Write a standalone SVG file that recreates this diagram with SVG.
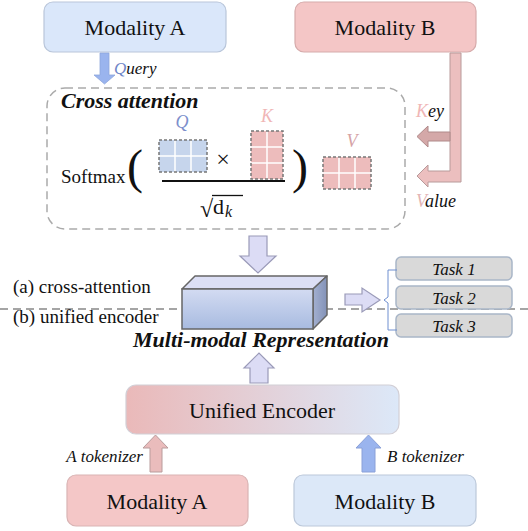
<svg xmlns="http://www.w3.org/2000/svg" width="528" height="531" viewBox="0 0 528 531">
<style>
.serif{font-family:"Liberation Serif","Times New Roman",serif;fill:#111}
.it{font-style:italic}
.bi{font-style:italic;font-weight:bold}
.box{stroke-width:1.2}
.lav{fill:#dcdcf5;stroke:#9a9ab8;stroke-width:1.2}
.grid{stroke:#fff;stroke-width:1.5}
.mborder{fill:none;stroke:#777;stroke-width:1.5;stroke-dasharray:3 2}
</style>
<defs>
<linearGradient id="ueGrad" x1="0" y1="0" x2="1" y2="0">
<stop offset="0" stop-color="#eab9b9"/>
<stop offset="1" stop-color="#dce8f8"/>
</linearGradient>
<linearGradient id="frontGrad" x1="0" y1="0" x2="0" y2="1">
<stop offset="0" stop-color="#d3dbf2"/>
<stop offset="1" stop-color="#a8bbe0"/>
</linearGradient>
<linearGradient id="sideGrad" x1="0" y1="0" x2="1" y2="0">
<stop offset="0" stop-color="#a3b0d0"/>
<stop offset="1" stop-color="#8392b8"/>
</linearGradient>
</defs>

<!-- separator -->
<line x1="0" y1="309" x2="528" y2="309" stroke="#888" stroke-width="1.5" stroke-dasharray="8 5"/>

<g id="modalityA-top">
<rect x="44" y="2" width="182" height="50" rx="9" fill="#dae7fa" stroke="#b9c6da" class="box"/>
<text x="135" y="35" class="serif" font-size="22" text-anchor="middle">Modality A</text>
</g>
<g id="modalityB-top">
<rect x="295" y="2" width="181" height="50" rx="9" fill="#f4c6c6" stroke="#d6abab" class="box"/>
<text x="385" y="35" class="serif" font-size="22" text-anchor="middle">Modality B</text>
</g>

<g id="cross-attention">
<rect x="47" y="88" width="358" height="141" rx="18" fill="none" stroke="#aaa" stroke-width="1.5" stroke-dasharray="8 5"/>
<text x="61" y="108" class="serif bi" font-size="22">Cross attention</text>
<text x="61" y="183" class="serif" font-size="19">Softmax</text>
<text x="127" y="183" class="serif" font-size="48">(</text>
<text x="292" y="183" class="serif" font-size="48">)</text>
<!-- Q -->
<text x="182" y="128" class="serif it" font-size="18" fill="#7d8fcc" text-anchor="middle" style="fill:#7d8fcc">Q</text>
<rect x="159" y="140" width="48" height="32" fill="#c6d5ec"/>
<line x1="175" y1="140" x2="175" y2="172" class="grid"/>
<line x1="191" y1="140" x2="191" y2="172" class="grid"/>
<line x1="159" y1="156" x2="207" y2="156" class="grid"/>
<rect x="159" y="140" width="48" height="32" class="mborder"/>
<text x="223" y="167" class="serif" font-size="24" text-anchor="middle">×</text>
<!-- K -->
<text x="267" y="122" class="serif it" font-size="18" text-anchor="middle" style="fill:#f0b6b6">K</text>
<rect x="251" y="131" width="32" height="48" fill="#edbcbc"/>
<line x1="267" y1="131" x2="267" y2="179" class="grid"/>
<line x1="251" y1="147" x2="283" y2="147" class="grid"/>
<line x1="251" y1="163" x2="283" y2="163" class="grid"/>
<rect x="251" y="131" width="32" height="48" class="mborder"/>
<!-- fraction -->
<line x1="162" y1="181" x2="285" y2="181" stroke="#111" stroke-width="2"/>
<text x="200" y="217" class="serif" font-size="24">√</text>
<line x1="212" y1="195.5" x2="243" y2="195.5" stroke="#111" stroke-width="1.3"/>
<text x="213" y="214" class="serif" font-size="22">d</text>
<text x="225" y="217" class="serif it" font-size="16">k</text>
<!-- V -->
<text x="352" y="147" class="serif it" font-size="18" text-anchor="middle" style="fill:#d5a3a6">V</text>
<rect x="323" y="157" width="48" height="32" fill="#edbcbc"/>
<line x1="339" y1="157" x2="339" y2="189" class="grid"/>
<line x1="355" y1="157" x2="355" y2="189" class="grid"/>
<line x1="323" y1="173" x2="371" y2="173" class="grid"/>
<rect x="323" y="157" width="48" height="32" class="mborder"/>
</g>

<g id="representation">
<polygon points="182,289 195,276 327,276 313,289" fill="#dcdff5" stroke="#666" stroke-width="1.5" stroke-linejoin="round"/>
<polygon points="313,289 327,276 327,315 313,329" fill="url(#sideGrad)" stroke="#666" stroke-width="1.5" stroke-linejoin="round"/>
<rect x="182" y="289" width="131" height="40" fill="url(#frontGrad)" stroke="#666" stroke-width="1.5"/>
<text x="133" y="347" class="serif bi" font-size="22">Multi-modal Representation</text>
</g>

<g id="labels">
<text x="13" y="293" class="serif" font-size="19">(a) cross-attention</text>
<text x="13" y="323" class="serif" font-size="19">(b) unified encoder</text>
</g>

<g id="task1">
<rect x="396" y="257" width="116" height="23" rx="5" fill="#d9d9d9" stroke="#a9b6c8" stroke-width="1.5"/>
<text x="454" y="275" class="serif it" font-size="17" text-anchor="middle">Task 1</text>
</g>
<g id="task2">
<rect x="396" y="286" width="116" height="23" rx="5" fill="#d9d9d9" stroke="#a9b6c8" stroke-width="1.5"/>
<text x="454" y="304" class="serif it" font-size="17" text-anchor="middle">Task 2</text>
</g>
<g id="task3">
<rect x="396" y="314" width="116" height="23" rx="5" fill="#d9d9d9" stroke="#a9b6c8" stroke-width="1.5"/>
<text x="454" y="332" class="serif it" font-size="17" text-anchor="middle">Task 3</text>
</g>

<g id="unified-encoder">
<rect x="126" y="385" width="273" height="49" rx="10" fill="url(#ueGrad)" stroke="#d2cfd6" class="box"/>
<text x="262" y="418" class="serif" font-size="22" text-anchor="middle">Unified Encoder</text>
</g>

<g id="modalityA-bottom">
<rect x="67" y="475" width="181" height="51" rx="9" fill="#f4c7c7" stroke="#d9b4b4" class="box"/>
<text x="157" y="509" class="serif" font-size="22" text-anchor="middle">Modality A</text>
</g>
<g id="modalityB-bottom">
<rect x="294" y="475" width="182" height="51" rx="9" fill="#dce8f8" stroke="#bcc8da" class="box"/>
<text x="385" y="509" class="serif" font-size="22" text-anchor="middle">Modality B</text>
</g>

<g id="connectors">
<!-- Query -->
<polygon points="100,53 109,53 109,75 115,75 104.5,84 94,75 100,75" fill="#9ab4ee" stroke="#8ea6dc" stroke-width="0.8"/>
<text x="114" y="74" class="serif it" font-size="17"><tspan style="fill:#6f86c8">Q</tspan>uery</text>
<!-- Value L-shaped -->
<path d="M450,53 H461 V182 H428 V187 L417,176 L428,165 V171 H450 Z" fill="#ecbfbf" stroke="#b89a9a" stroke-width="1"/>
<!-- Key -->
<path d="M450,132 V141 H428 V147 L417,136.5 L428,126 V132 Z" fill="#d4a8a8" stroke="#b08a8a" stroke-width="1"/>
<text x="416" y="117" class="serif it" font-size="18"><tspan style="fill:#f0b6b6">K</tspan>ey</text>
<text x="416" y="207" class="serif it" font-size="18"><tspan style="fill:#e3b5b5">V</tspan>alue</text>
<!-- down arrow to cube -->
<polygon points="249,236 267,236 267,256 276,256 258,273 240,256 249,256" class="lav"/>
<!-- right arrow to tasks -->
<polygon points="345,294 362,294 362,288 380,300 362,312 362,305 345,305" class="lav"/>
<!-- brace -->
<path d="M397,270 H388 V297 L384,300 L388,303 V330 H397" fill="none" stroke="#6f8fd0" stroke-width="1"/>
<!-- up arrow from encoder -->
<polygon points="250,383 268,383 268,368 274,368 259,353 244,368 250,368" class="lav"/>
<!-- A tokenizer -->
<polygon points="150,472 162,472 162,448 168,448 155.5,435 143,448 150,448" fill="#eabcbc" stroke="#b99c9c" stroke-width="1"/>
<text x="143" y="462" class="serif it" font-size="17" text-anchor="end">A tokenizer</text>
<!-- B tokenizer -->
<polygon points="362,472 375,472 375,448 381,448 368.5,435 356,448 362,448" fill="#9ab4ee" stroke="#8aa0d8" stroke-width="1"/>
<text x="387" y="462" class="serif it" font-size="17">B tokenizer</text>
</g>
</svg>
